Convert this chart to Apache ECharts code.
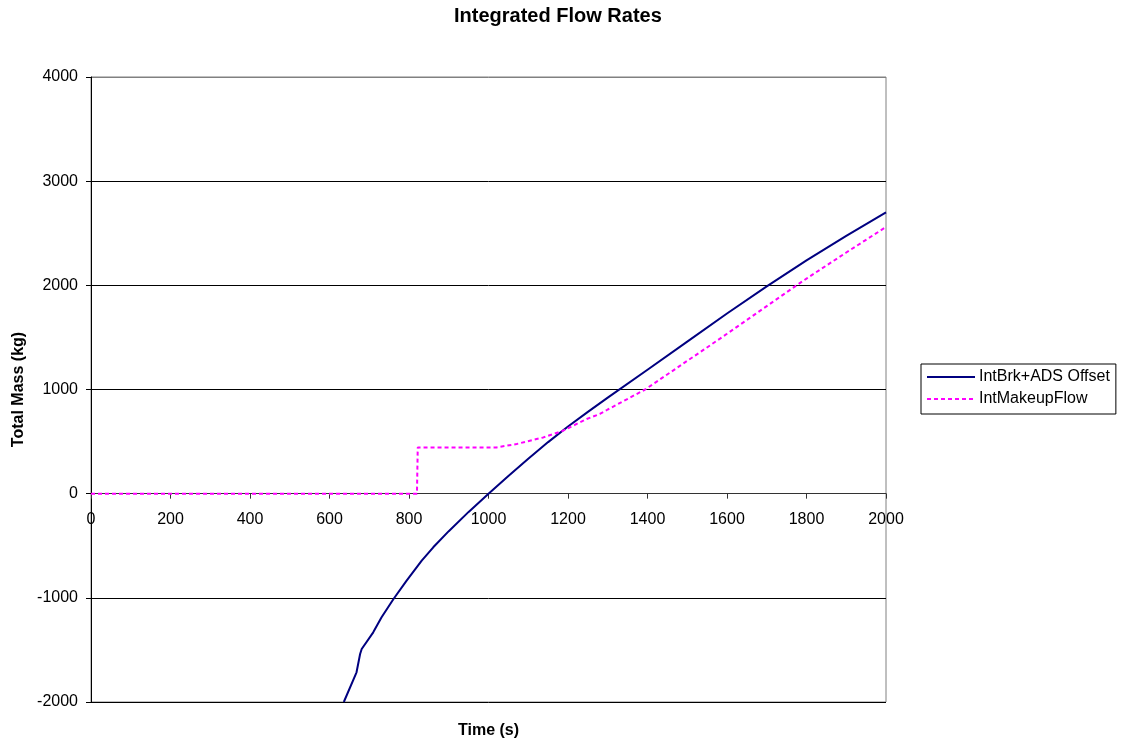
<!DOCTYPE html>
<html>
<head>
<meta charset="utf-8">
<script src="https://cdn.jsdelivr.net/npm/echarts@6/dist/echarts.min.js"></script>
<style>html,body{margin:0;padding:0;background:#fff}#c{width:1122px;height:744px}</style>
</head>
<body>
<div id="c"></div>
<script>
// Data
var xTicks = [0, 200, 400, 600, 800, 1000, 1200, 1400, 1600, 1800, 2000];
var yTicks = [-2000, -1000, 0, 1000, 2000, 3000, 4000];

var brkTime  = [636, 668, 677, 681, 710, 731, 761, 794, 832, 861, 900, 950, 1000, 1050, 1100, 1150, 1200, 1250, 1300, 1400, 1500, 1600, 1700, 1800, 1900, 2000];
var brkMass  = [-2000, -1715, -1539, -1491, -1331, -1187, -1011, -835, -643, -515, -360, -175, 0, 170, 335, 495, 645, 785, 922, 1190, 1460, 1730, 1990, 2240, 2475, 2700];

var makeupTime = [0, 820, 822, 1020, 1071, 1138, 1188, 1247, 1280, 1300, 1394, 1500, 1532, 1600, 1700, 1775, 1800, 1900, 2000];
var makeupMass = [0, 0, 444, 444, 477, 540, 605, 717, 765, 808, 1000, 1275, 1357, 1535, 1800, 2000, 2065, 2315, 2560];

function zip(a, b) { return a.map(function (v, i) { return [v, b[i]]; }); }
function plain(v) { return String(v); }

var FONT = "'Liberation Sans', Arial, sans-serif";
var chart = echarts.init(document.getElementById('c'), null, {renderer: 'canvas'});
chart.setOption({
  animation: false,
  backgroundColor: '#fff',
  title: {
    text: 'Integrated Flow Rates',
    left: 454,
    top: 6,
    padding: 0,
    textStyle: {fontFamily: FONT, fontWeight: 'bold', fontSize: 20, color: '#000'}
  },
  legend: {
    orient: 'vertical',
    left: 921,
    top: 364,
    padding: [5, 6, 7, 5],
    itemWidth: 48,
    itemHeight: 16,
    itemGap: 6,
    borderColor: '#000',
    borderWidth: 1,
    itemStyle: {opacity: 0},
    textStyle: {fontFamily: FONT, fontSize: 16, color: '#000', padding: [0, 0, 0, -1]},
    data: ['IntBrk+ADS Offset', 'IntMakeupFlow']
  },
  grid: {
    left: 91, right: 236, top: 77, bottom: 42,
    outerBoundsMode: 'none',
    containLabel: false,
    show: true, borderColor: '#808080', borderWidth: 1, backgroundColor: 'transparent'
  },
  xAxis: {
    type: 'value',
    min: 0, max: 2000, interval: 200,
    name: 'Time (s)',
    nameLocation: 'middle',
    nameGap: 21,
    nameTextStyle: {fontFamily: FONT, fontWeight: 'bold', fontSize: 16, color: '#000'},
    axisLine: {show: true, onZero: true, lineStyle: {color: '#333', width: 1}},
    axisTick: {show: true, inside: false, length: 5, lineStyle: {color: '#333'}},
    axisLabel: {fontFamily: FONT, fontSize: 16, color: '#000', margin: -190, formatter: plain, hideOverlap: false},
    splitLine: {show: false}
  },
  yAxis: {
    type: 'value',
    min: -2000, max: 4000, interval: 1000,
    name: 'Total Mass (kg)',
    nameLocation: 'middle',
    nameRotate: 90,
    nameGap: 60,
    nameTextStyle: {fontFamily: FONT, fontWeight: 'bold', fontSize: 16, color: '#000'},
    axisLine: {show: true, onZero: false, lineStyle: {color: '#000', width: 1}},
    axisTick: {show: true, inside: false, length: 5, lineStyle: {color: '#000'}},
    axisLabel: {fontFamily: FONT, fontSize: 16, color: '#000', margin: 13, formatter: plain},
    splitLine: {show: true, lineStyle: {color: ['#000', '#000', '#000', '#000', '#000', '#000', '#808080'], width: 1}}
  },
  series: [
    {
      name: 'IntBrk+ADS Offset',
      type: 'line',
      data: zip(brkTime, brkMass),
      showSymbol: false,
      symbol: 'none',
      smooth: false,
      clip: true,
      color: '#000080',
      lineStyle: {color: '#000080', width: 2}
    },
    {
      name: 'IntMakeupFlow',
      type: 'line',
      data: zip(makeupTime, makeupMass),
      showSymbol: false,
      symbol: 'none',
      clip: true,
      color: '#FF00FF',
      lineStyle: {color: '#FF00FF', width: 2, type: [4, 3]}
    }
  ]
});
</script>
</body>
</html>
